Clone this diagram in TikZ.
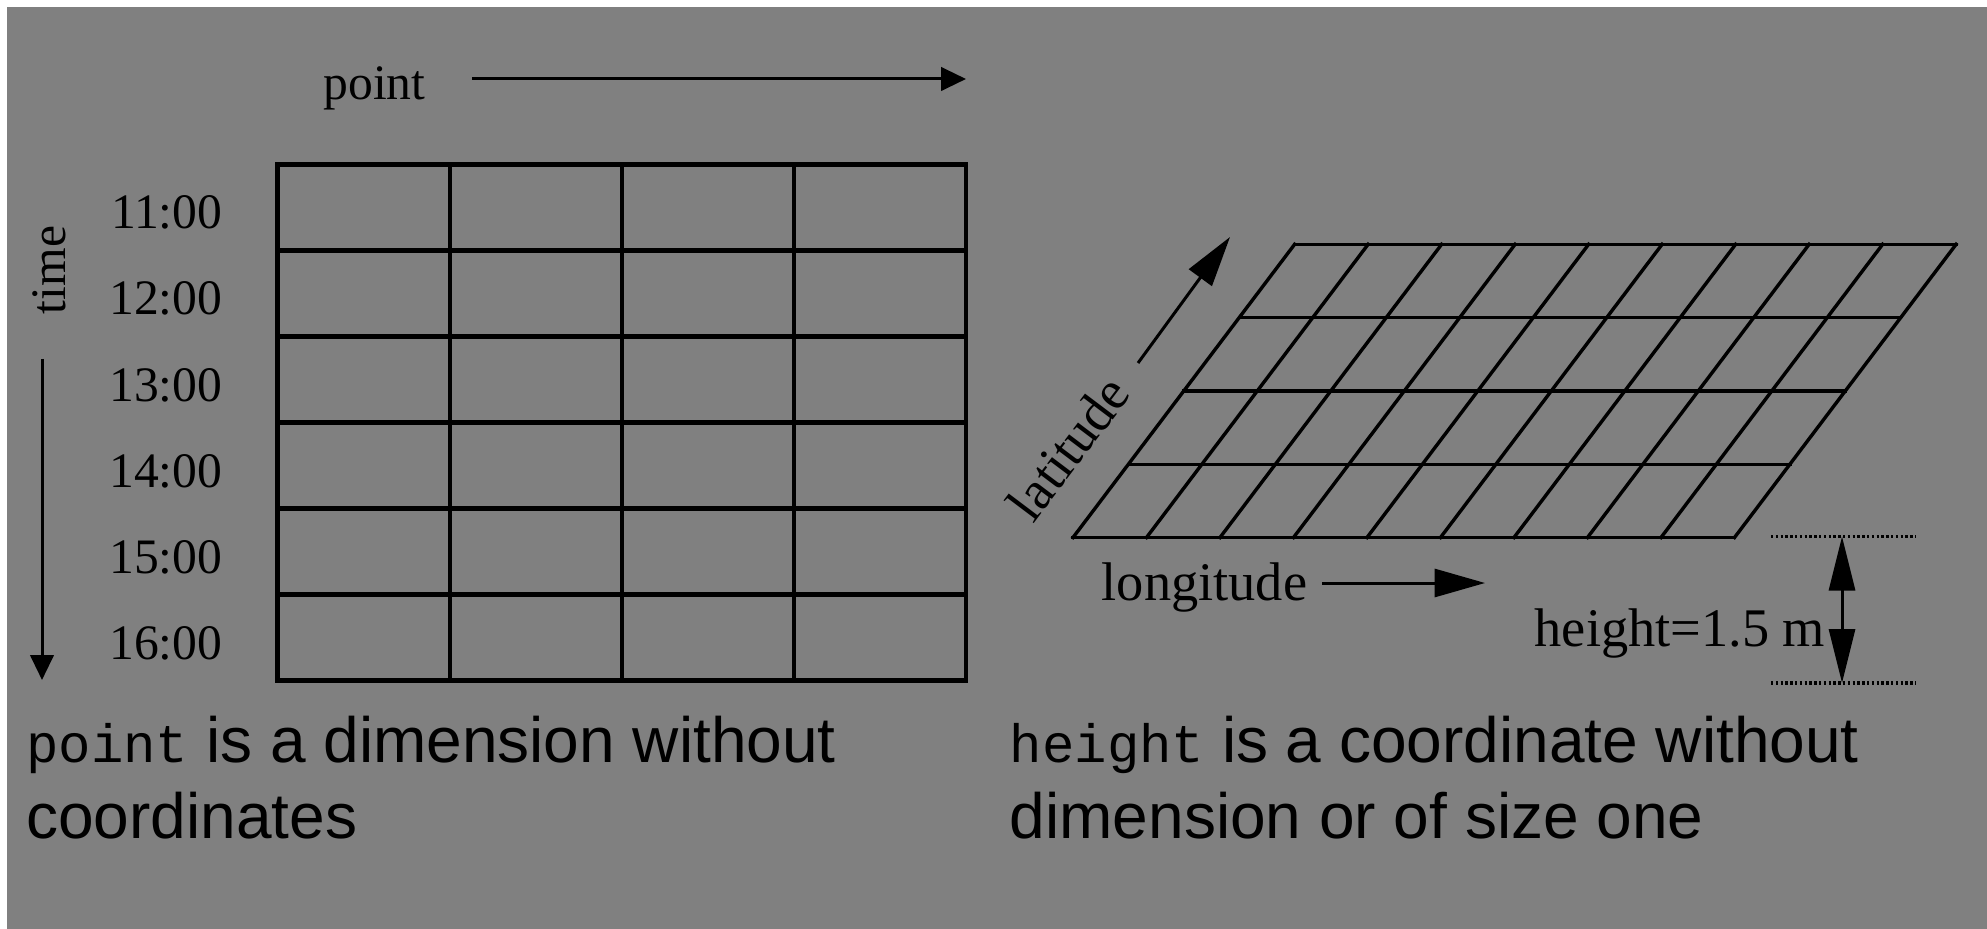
\documentclass[tikz,border=0pt]{standalone}
\usepackage{fontspec}
\setmainfont{Liberation Serif}
\setsansfont{Liberation Sans}
\setmonofont{Liberation Mono}
\usetikzlibrary{arrows.meta}
\definecolor{bggray}{RGB}{128,128,128}

\begin{document}
\begin{tikzpicture}[x=0.25pt, y=-0.25pt,
  gridline/.style={line width=1.05pt, line cap=rect},
  mapline/.style={line width=0.85pt, line cap=rect},
  smallarrow/.style={line width=0.75pt, -{Triangle[length=6.2pt,width=5.8pt]}},
  bigarrow/.style={line width=0.75pt, -{Triangle[length=12.6pt,width=7pt]}},
  dimline/.style={line width=0.8pt, dash pattern=on 0.6pt off 0.6pt},
  axislabel/.style={font=\fontsize{12.4}{14}\selectfont, inner sep=0pt},
  maplabel/.style={font=\fontsize{13.6}{15}\selectfont, inner sep=0pt},
  captiontext/.style={font=\fontsize{16}{19}\sffamily, inner sep=0pt, anchor=base west}]
  %
  \useasboundingbox (0,0) rectangle (1987,929);
  \fill[white] (0,0) rectangle (1987,929);
  \fill[bggray] (7,7) rectangle (1987,929);
  %
  % left: point x time
  \node[axislabel, anchor=base] (point) at (374.5,100) {point};
  \coordinate (pointA) at (472,79);
  \coordinate (pointB) at (966,79);
  \draw[smallarrow] (pointA) -- (pointB);
  %
  \foreach \i in {0,...,4}
    \draw[gridline] ({277.5+172.1*\i},164.5) -- ({277.5+172.1*\i},680);
  \foreach \j in {0,...,6}
    \draw[gridline] (277.5,{164.5+86*\j}) -- (966,{164.5+86*\j});
  %
  \foreach \h [count=\k from 0] in {11,...,16}
    \node[axislabel, anchor=base east] (t\h) at (223,{229+86*\k}) {\h:00};
  %
  \node[axislabel, rotate=90] (time) at (49,270) {time};
  \coordinate (timeA) at (42,359);
  \coordinate (timeB) at (42,680);
  \draw[smallarrow] (timeA) -- (timeB);
  %
  % right: latitude x longitude
  \foreach \j in {0,...,4}
    \draw[mapline] ({1073+55.4*\j},{537.5-73.3*\j}) -- ++(661.5,0);
  \foreach \i in {0,...,9}
    \draw[mapline] ({1073+73.5*\i},537.5) -- ++(221.6,-293.2);
  %
  \node[maplabel, rotate=53] (lat) at (1068,448) {latitude};
  \coordinate (latA) at (1138,363);
  \coordinate (latB) at (1230,237);
  \draw[bigarrow] (latA) -- (latB);
  %
  \node[maplabel, anchor=base] (lon) at (1204.5,600) {longitude};
  \coordinate (lonA) at (1322,583);
  \coordinate (lonB) at (1485,583);
  \draw[bigarrow] (lonA) -- (lonB);
  %
  \coordinate (htop) at (1842,536.5);
  \coordinate (hbot) at (1842,683);
  \draw[dimline] (1771,536.5) -- (1916,536.5);
  \draw[dimline] (1771,683) -- (1916,683);
  \draw[line width=0.75pt, {Triangle[length=13.5pt,width=6.5pt]}-{Triangle[length=13.5pt,width=6.5pt]}] (htop) -- (hbot);
  \node[maplabel, anchor=base east] (height) at (1826,646) {height=1.5 m};
  %
  % captions
  \node[captiontext] (capL1) at (25.5,762) {{\fontsize{13.5}{16}\ttfamily point} is a dimension without};
  \node[captiontext] (capL2) at (25.5,838) {coordinates};
  \node[captiontext] (capR1) at (1009,762) {{\fontsize{13.5}{16}\ttfamily height} is a coordinate without};
  \node[captiontext] (capR2) at (1009,838) {dimension or of size one};
\end{tikzpicture}
\end{document}
